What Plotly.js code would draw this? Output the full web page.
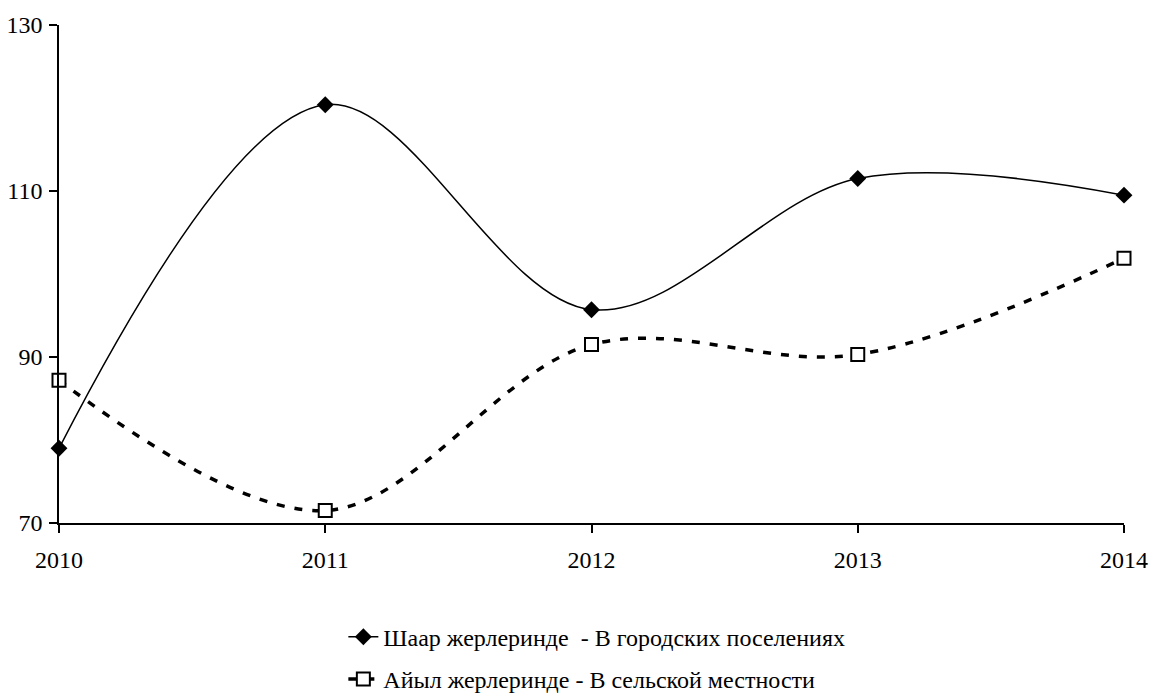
<!DOCTYPE html>
<html><head><meta charset="utf-8">
<script src="https://cdn.plot.ly/plotly-3.0.1.min.js"></script>
<style>html,body{margin:0;padding:0;background:#fff}#c{width:1153px;height:693px}</style>
</head><body><div id="c"></div>
<script>
const years = [2010, 2011, 2012, 2013, 2014];
const urban = [79.0, 120.4, 95.7, 111.5, 109.5];
const rural = [87.2, 71.5, 91.5, 90.3, 101.9];
const urbanName = 'Шаар жерлеринде  - В городских поселениях';
const ruralName = 'Айыл жерлеринде - В сельской местности';
const yTicks = [70, 90, 110, 130];

function mkFont(s) { return {family: 'Liberation Serif', size: s, color: '#000'}; }

Plotly.newPlot('c', [
  {x: years, y: urban, name: urbanName, type: 'scatter', mode: 'lines+markers',
   legendgroup: 'a', cliponaxis: false,
   line: {color: '#000', width: 1.5, shape: 'spline', smoothing: 1},
   marker: {symbol: 'diamond', size: 13, color: '#000'}},
  {x: years, y: rural, name: ruralName, type: 'scatter', mode: 'lines+markers',
   legendgroup: 'b', cliponaxis: false,
   line: {color: '#000', width: 3.5, shape: 'spline', smoothing: 1, dash: '8px,10px'},
   marker: {symbol: 'square', size: 13, color: '#fff', line: {width: 2, color: '#000'}}}
], {
  width: 1153, height: 693,
  margin: {l: 59, r: 29, t: 25, b: 170, autoexpand: false},
  paper_bgcolor: '#fff', plot_bgcolor: '#fff',
  font: mkFont(24),
  showlegend: true,
  legend: {x: 0.267, xanchor: 'left', y: -0.184, yanchor: 'top', font: mkFont(24),
           tracegroupgap: 8, bgcolor: 'rgba(0,0,0,0)'},
  xaxis: {range: [2010, 2014], tickvals: years, ticktext: years.map(String),
          showgrid: false, zeroline: false, showline: true, linecolor: '#000', linewidth: 1.5,
          ticks: 'outside', ticklen: 8, tickwidth: 1.5, tickcolor: '#000', tickfont: mkFont(24),
          ticklabelstandoff: 6},
  yaxis: {range: [70, 130], tickvals: yTicks, showgrid: false, zeroline: false,
          showline: true, linecolor: '#000', linewidth: 1.5,
          ticks: 'outside', ticklen: 8, tickwidth: 1.5, tickcolor: '#000', tickfont: mkFont(24),
          ticklabelstandoff: 2}
}, {displayModeBar: false});
</script></body></html>
